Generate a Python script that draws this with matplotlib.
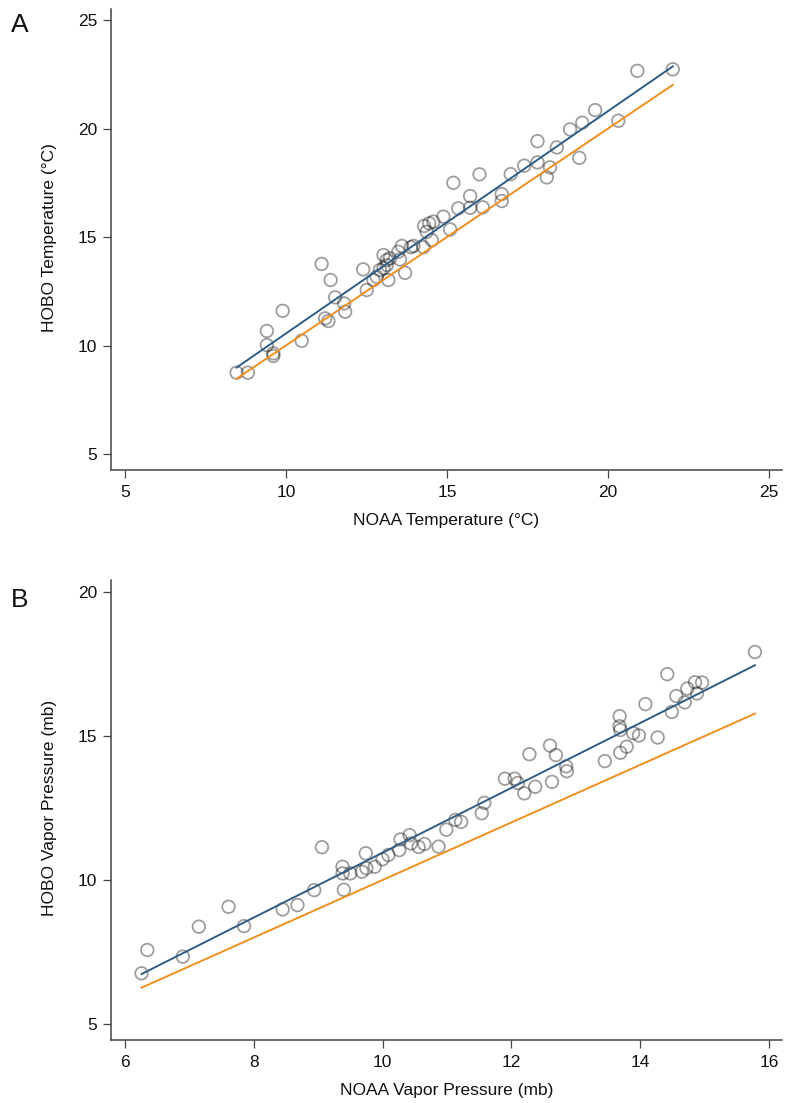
import numpy as np
import matplotlib.pyplot as plt

plt.rcParams['font.family'] = ['Liberation Sans', 'DejaVu Sans']

# Panel A: temperatura (°C)
noaa_temp = [8.47, 8.82, 9.41, 9.41, 9.61, 9.61, 9.90, 10.49, 11.11, 11.22, 11.32, 11.39,
             11.53, 11.81, 11.84, 12.40, 12.51, 12.72, 12.82, 12.92, 13.03, 13.03, 13.13,
             13.13, 13.18, 13.23, 13.49, 13.54, 13.60, 13.70, 13.88, 13.96, 14.27, 14.29,
             14.37, 14.45, 14.53, 14.58, 14.89, 15.10, 15.20, 15.35, 15.72, 15.72, 16.01,
             16.11, 16.70, 16.70, 16.98, 17.40, 17.81, 17.81, 18.10, 18.20, 18.41, 18.82,
             19.11, 19.20, 19.60, 20.32, 20.91, 22.01]
hobo_temp = [8.75, 8.75, 10.67, 10.02, 9.64, 9.52, 11.60, 10.22, 13.76, 11.25, 11.13, 13.02,
             12.22, 11.94, 11.56, 13.51, 12.56, 13.02, 13.17, 13.48, 14.17, 13.56, 13.94,
             13.71, 13.02, 14.02, 14.32, 13.97, 14.59, 13.35, 14.53, 14.59, 14.53, 15.51,
             15.24, 15.63, 14.86, 15.71, 15.94, 15.35, 17.50, 16.32, 16.89, 16.35, 17.89,
             16.37, 16.98, 16.66, 17.90, 18.29, 19.42, 18.44, 17.75, 18.21, 19.13, 19.96,
             18.65, 20.27, 20.85, 20.36, 22.66, 22.73]

# Panel B: presión de vapor (mb)
noaa_vp = [6.26, 6.35, 6.90, 7.15, 7.61, 7.85, 8.45, 8.68, 8.94, 9.06, 9.40, 9.38, 9.38,
           9.50, 9.68, 9.74, 9.75, 9.88, 10.00, 10.09, 10.26, 10.28, 10.42, 10.44, 10.56,
           10.65, 10.87, 10.99, 11.13, 11.22, 11.54, 11.58, 11.90, 12.05, 12.10, 12.20,
           12.37, 12.28, 12.60, 12.69, 12.63, 12.85, 12.86, 13.45, 13.68, 13.68, 13.69,
           13.69, 13.79, 13.89, 13.98, 14.08, 14.27, 14.42, 14.49, 14.56, 14.69, 14.73,
           14.85, 14.88, 14.96, 15.78]
hobo_vp = [6.76, 7.57, 7.34, 8.38, 9.07, 8.40, 8.98, 9.13, 9.65, 11.14, 9.66, 10.46, 10.23,
           10.23, 10.29, 10.93, 10.41, 10.46, 10.72, 10.87, 11.04, 11.41, 11.56, 11.27, 11.15,
           11.25, 11.16, 11.75, 12.09, 12.02, 12.32, 12.68, 13.52, 13.52, 13.37, 13.01,
           13.24, 14.37, 14.67, 14.34, 13.41, 13.95, 13.78, 14.13, 15.69, 15.34, 15.21,
           14.42, 14.63, 15.10, 15.02, 16.11, 14.95, 17.15, 15.84, 16.39, 16.17, 16.65,
           16.87, 16.48, 16.86, 17.92]

temp_ticks = [5, 10, 15, 20, 25]
vp_xticks = [6, 8, 10, 12, 14, 16]
vp_yticks = [5, 10, 15, 20]

azul = '#2f5c87'
naranja = '#ef8f1f'

W, H = 786, 1103
fig = plt.figure(figsize=(W / 100, H / 100), dpi=100)


def panel(rect, x, y, xticks, yticks, xlim, ylim, xlabel, ylabel, letra, letra_y):
    left, top, right, bottom = rect
    ax = fig.add_axes([left / W, 1 - bottom / H, (right - left) / W, (bottom - top) / H])
    x = np.array(x)
    y = np.array(y)
    ax.scatter(x, y, s=82, facecolors='none', edgecolors='black', linewidths=1.3,
               alpha=0.38, zorder=2)
    # recta de ajuste (azul) y recta 1:1 (naranja)
    xs = np.array([x.min(), x.max()])
    b, a = np.polyfit(x, y, 1)
    ax.plot(xs, a + b * xs, color=azul, lw=1.4, zorder=3)
    ax.plot(xs, xs, color=naranja, lw=1.4, zorder=3)

    ax.set_xlim(*xlim)
    ax.set_ylim(*ylim)
    ax.set_xticks(xticks)
    ax.set_yticks(yticks)
    for s in ['top', 'right']:
        ax.spines[s].set_visible(False)
    for s in ['left', 'bottom']:
        ax.spines[s].set_color('#444444')
        ax.spines[s].set_linewidth(1.1)
    ax.tick_params(direction='out', length=6, width=0.9, color='#444444',
                   labelsize=12.5, labelcolor='#111111')
    ax.tick_params(axis='x', pad=5)
    ax.tick_params(axis='y', pad=4)

    ax.set_xlabel(xlabel, fontsize=12.5, color='#111111')
    ax.set_ylabel(ylabel, fontsize=12.5, color='#111111')
    ax.xaxis.set_label_coords(0.5, -0.11)
    ax.xaxis.label.set_verticalalignment('center')
    ax.yaxis.set_label_coords(-0.091, 0.505)
    ax.yaxis.label.set_verticalalignment('center')

    fig.text(20 / W, 1 - letra_y / H, letra, fontsize=19, ha='center', va='center',
             color='#111111')
    return ax


panel((111, 9, 782, 470), noaa_temp, hobo_temp, temp_ticks, temp_ticks,
      (4.572, 25.40), (4.263, 25.51),
      'NOAA Temperature (°C)', 'HOBO Temperature (°C)', 'A', 25)

panel((111, 580, 782, 1040), noaa_vp, hobo_vp, vp_xticks, vp_yticks,
      (5.786, 16.20), (4.444, 20.42),
      'NOAA Vapor Pressure (mb)', 'HOBO Vapor Pressure (mb)', 'B', 600)

fig.savefig('out.png', dpi=100)
